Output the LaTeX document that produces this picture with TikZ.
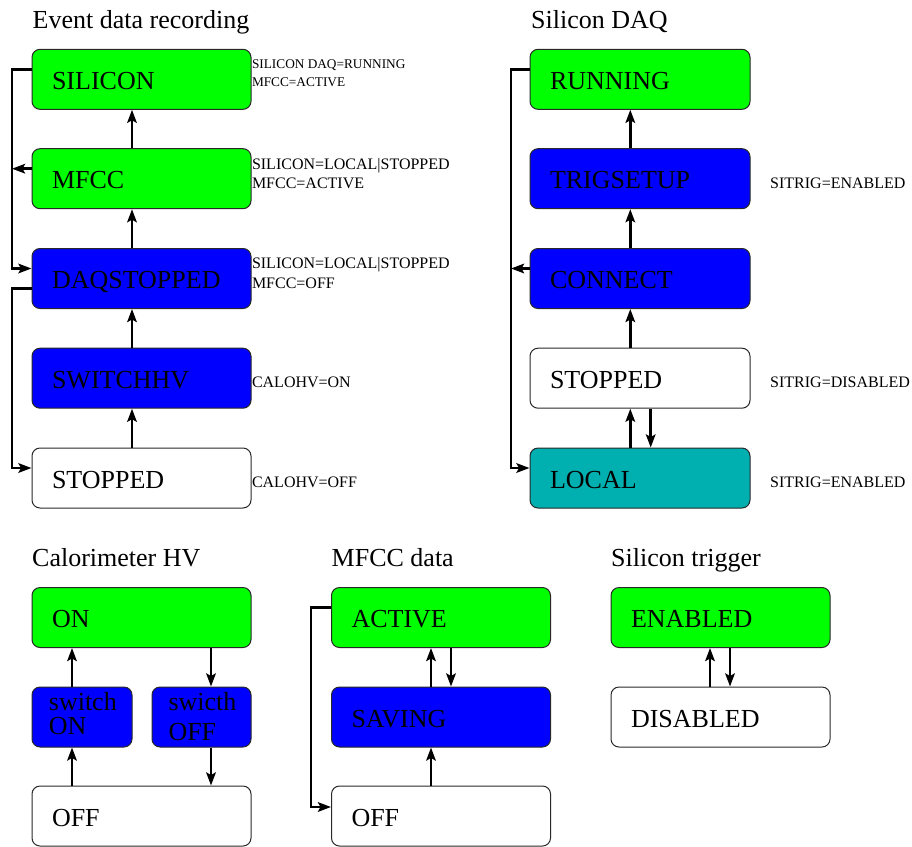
\documentclass[tikz,border=0pt]{standalone}
\usepackage{fontspec}
\setmainfont{Liberation Serif}
\usetikzlibrary{arrows.meta}
\definecolor{boxgreen}{RGB}{0,255,0}
\definecolor{boxblue}{RGB}{0,0,255}
\definecolor{boxteal}{RGB}{0,176,176}
\definecolor{boxline}{RGB}{40,40,40}
\newcommand{\bigfnt}{\fontsize{26}{23.5}\selectfont}
\newcommand{\midfnt}{\fontsize{16}{18}\selectfont}
\newcommand{\smlfnt}{\fontsize{13.3}{16}\selectfont}
\tikzset{
  box/.style={draw=boxline, line width=1pt, rounded corners=8pt, minimum height=60pt,
    text width=179pt, inner xsep=20pt, inner ysep=0pt, align=left,
    text height=20pt, text depth=0pt, font=\bigfnt},
  sbox/.style={draw=boxline, line width=1pt, rounded corners=8pt, minimum height=60pt,
    minimum width=100pt, inner sep=0pt},
  txt/.style={anchor=base west, inner sep=0pt, font=\bigfnt},
  head/.style={anchor=base west, inner sep=0pt, font=\bigfnt},
  cond/.style={anchor=base west, inner sep=0pt, font=\midfnt},
  condsm/.style={anchor=base west, inner sep=0pt, font=\smlfnt},
  arr/.style={line width=2.6pt, -{Stealth[length=13pt,width=9.5pt,inset=2.5pt]}},
}
\begin{document}
\begin{tikzpicture}[x=1pt,y=-1pt]
\useasboundingbox (0,0) rectangle (912,846);

% ---------------- Event data recording ----------------
\node[head] (h1) at (32.5,28.3) {Event data recording};
\node[box, fill=boxgreen] (sil) at (141.5,79.3) {SILICON};
\node[box, fill=boxgreen] (mfcc) at (141.5,178.7) {MFCC};
\node[box, fill=boxblue] (daq) at (141.5,278.5) {DAQSTOPPED};
\node[box, fill=boxblue] (shv) at (141.5,378.2) {SWITCHHV};
\node[box, fill=white] (stp) at (141.5,478) {STOPPED};

\node[condsm] (c1a) at (251.8,68.3) {SILICON DAQ=RUNNING};
\node[condsm] (c1b) at (251.8,86.7) {MFCC=ACTIVE};
\node[cond] (c2a) at (251.8,169.3) {SILICON=LOCAL|STOPPED};
\node[cond] (c2b) at (251.8,188.7) {MFCC=ACTIVE};
\node[cond] (c3a) at (251.8,268.3) {SILICON=LOCAL|STOPPED};
\node[cond] (c3b) at (251.8,288.3) {MFCC=OFF};
\node[cond] (c4) at (251.8,387.7) {CALOHV=ON};
\node[cond] (c5) at (251.8,487.7) {CALOHV=OFF};

\coordinate (xa) at (132,0);
\coordinate (lx) at (12,0);
\draw[arr] (mfcc.north -| xa) -- (sil.south -| xa);
\draw[arr] (daq.north -| xa) -- (mfcc.south -| xa);
\draw[arr] (shv.north -| xa) -- (daq.south -| xa);
\draw[arr] (stp.north -| xa) -- (shv.south -| xa);
\draw[arr] ([yshift=10pt]sil.west) -- ([yshift=10pt]sil.west -| lx) -- ([yshift=10pt]daq.west -| lx) -- ([yshift=10pt]daq.west);
\draw[arr] ([yshift=10pt]mfcc.west) -- ([yshift=10pt]mfcc.west -| lx);
\draw[arr] ([yshift=-10pt]daq.west) -- ([yshift=-10pt]daq.west -| lx) -- ([yshift=10pt]stp.west -| lx) -- ([yshift=10pt]stp.west);

% ---------------- Silicon DAQ ----------------
\node[head] (h2) at (531,28.3) {Silicon DAQ};
\node[box, fill=boxgreen, text width=180pt] (run) at (640,79.3) {RUNNING};
\node[box, fill=boxblue, text width=180pt] (trg) at (640,178.7) {TRIGSETUP};
\node[box, fill=boxblue, text width=180pt] (con) at (640,278.5) {CONNECT};
\node[box, fill=white, text width=180pt] (sst) at (640,378.2) {STOPPED};
\node[box, fill=boxteal, text width=180pt] (loc) at (640,478) {LOCAL};

\node[cond] (s1) at (770,188.5) {SITRIG=ENABLED};
\node[cond] (s2) at (770,387.7) {SITRIG=DISABLED};
\node[cond] (s3) at (770,487.5) {SITRIG=ENABLED};

\coordinate (xb) at (630.3,0);
\coordinate (xc) at (650.7,0);
\coordinate (rx) at (511,0);
\draw[arr] (trg.north -| xb) -- (run.south -| xb);
\draw[arr] (con.north -| xb) -- (trg.south -| xb);
\draw[arr] (sst.north -| xb) -- (con.south -| xb);
\draw[arr] (loc.north -| xb) -- (sst.south -| xb);
\draw[arr] (sst.south -| xc) -- (loc.north -| xc);
\draw[arr] ([yshift=10pt]run.west) -- ([yshift=10pt]run.west -| rx) -- ([yshift=10pt]loc.west -| rx) -- ([yshift=10pt]loc.west);
\draw[arr] ([yshift=10pt]con.west) -- ([yshift=10pt]con.west -| rx);

% ---------------- Calorimeter HV ----------------
\node[head] (h3) at (32,566.7) {Calorimeter HV};
\node[box, fill=boxgreen] (con1) at (141.5,617.5) {ON};
\node[sbox, fill=boxblue] (swon) at (82,717) {};
\node[sbox, fill=boxblue, minimum width=99pt] (swoff) at (201.5,717) {};
\node[box, fill=white] (off1) at (141.5,816) {OFF};
\node[txt] (t1a) at (48.7,710.7) {switch};
\node[txt] (t1b) at (48.7,734.3) {ON};
\node[txt] (t2a) at (168.3,710.7) {swicth};
\node[txt] (t2b) at (168.3,740.5) {OFF};

\coordinate (xd) at (72,0);
\coordinate (xe) at (211,0);
\draw[arr] (swon.north -| xd) -- (con1.south -| xd);
\draw[arr] (off1.north -| xd) -- (swon.south -| xd);
\draw[arr] (con1.south -| xe) -- (swoff.north -| xe);
\draw[arr] (swoff.south -| xe) -- (off1.north -| xe);

% ---------------- MFCC data ----------------
\node[head] (h4) at (331.5,566.7) {MFCC data};
\node[box, fill=boxgreen] (act) at (441,617.5) {ACTIVE};
\node[box, fill=boxblue] (sav) at (441,717) {SAVING};
\node[box, fill=white] (off2) at (441,816) {OFF};

\coordinate (xf) at (431,0);
\coordinate (xg) at (451,0);
\coordinate (mx) at (311,0);
\draw[arr] (sav.north -| xf) -- (act.south -| xf);
\draw[arr] (act.south -| xg) -- (sav.north -| xg);
\draw[arr] (off2.north -| xf) -- (sav.south -| xf);
\draw[arr] ([yshift=10pt]act.west) -- ([yshift=10pt]act.west -| mx) -- ([yshift=9pt]off2.west -| mx) -- ([yshift=9pt]off2.west);

% ---------------- Silicon trigger ----------------
\node[head] (h5) at (611,566.7) {Silicon trigger};
\node[box, fill=boxgreen] (ena) at (720.5,617.5) {ENABLED};
\node[box, fill=white] (dis) at (720.5,717) {DISABLED};

\coordinate (xh) at (710,0);
\coordinate (xi) at (730,0);
\draw[arr] (dis.north -| xh) -- (ena.south -| xh);
\draw[arr] (ena.south -| xi) -- (dis.north -| xi);
\end{tikzpicture}
\end{document}
